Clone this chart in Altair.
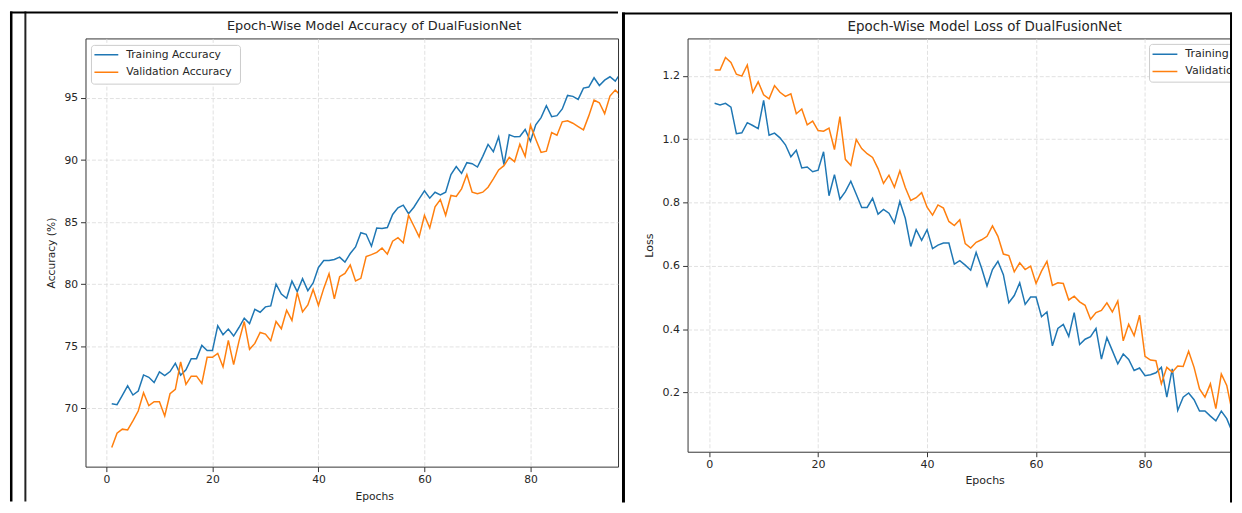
import altair as alt
import pandas as pd

# ---------------- data ----------------
epochs = list(range(1, 98))

train_acc = [70.37, 70.29, 71.04, 71.81, 71.07, 71.39, 72.69, 72.50, 72.08, 72.93,
             72.64, 72.96, 73.63, 72.67, 73.10, 74.00, 74.00, 75.07, 74.65, 74.65,
             76.65, 75.93, 76.38, 75.82, 76.51, 77.26, 76.83, 77.98, 77.74, 78.17,
             78.25, 80.00, 79.20, 78.86, 80.25, 79.40, 80.44, 79.48, 80.10, 81.35,
             81.90, 81.90, 81.99, 82.18, 81.78, 82.47, 83.00, 84.15, 84.02, 83.06,
             84.53, 84.48, 84.56, 85.62, 86.15, 86.37, 85.68, 86.20, 86.88, 87.52,
             86.93, 87.41, 87.20, 87.41, 88.83, 89.47, 88.93, 89.79, 89.71, 89.44,
             90.30, 91.26, 90.67, 91.87, 89.63, 92.03, 91.87, 91.90, 92.46, 91.52,
             92.84, 93.42, 94.38, 93.50, 93.58, 94.12, 95.21, 95.13, 94.89, 95.80,
             95.88, 96.63, 96.01, 96.44, 96.71, 96.36, 97.00]

val_acc = [66.84, 68.00, 68.32, 68.26, 68.98, 69.78, 71.25, 70.21, 70.53, 70.53,
           69.38, 71.17, 71.52, 73.73, 71.92, 72.59, 72.59, 72.00, 74.11, 74.11,
           74.43, 73.33, 75.47, 73.52, 75.39, 76.99, 74.75, 75.23, 76.11, 75.98,
           75.45, 76.99, 76.41, 77.90, 77.08, 79.32, 77.77, 78.33, 79.58, 78.28,
           79.66, 80.85, 78.81, 80.60, 80.87, 81.54, 80.26, 80.47, 82.22, 82.38,
           82.56, 82.92, 82.42, 83.46, 83.75, 83.33, 85.55, 84.69, 83.81, 85.55,
           84.53, 86.23, 86.82, 85.55, 87.15, 87.07, 87.68, 88.83, 87.41, 87.28,
           87.41, 87.81, 88.48, 89.20, 89.55, 90.22, 89.87, 91.28, 90.30, 92.81,
           91.68, 90.62, 90.72, 92.22, 92.00, 93.08, 93.16, 92.97, 92.70, 92.44,
           93.56, 94.84, 94.62, 93.74, 95.16, 95.64, 95.20]

train_loss = [1.113, 1.108, 1.113, 1.101, 1.017, 1.020, 1.052, 1.043, 1.033, 1.122,
              1.012, 1.019, 1.004, 0.982, 0.944, 0.965, 0.909, 0.912, 0.897, 0.902,
              0.960, 0.821, 0.888, 0.810, 0.834, 0.867, 0.826, 0.784, 0.784, 0.813,
              0.763, 0.778, 0.766, 0.735, 0.803, 0.750, 0.661, 0.714, 0.680, 0.714,
              0.654, 0.665, 0.672, 0.672, 0.605, 0.616, 0.602, 0.586, 0.642, 0.593,
              0.536, 0.588, 0.614, 0.572, 0.483, 0.506, 0.546, 0.478, 0.501, 0.501,
              0.439, 0.454, 0.347, 0.402, 0.415, 0.377, 0.452, 0.351, 0.368, 0.376,
              0.402, 0.305, 0.373, 0.332, 0.290, 0.321, 0.304, 0.269, 0.277, 0.253,
              0.256, 0.262, 0.279, 0.185, 0.274, 0.143, 0.185, 0.198, 0.177, 0.141,
              0.141, 0.125, 0.110, 0.141, 0.117, 0.075, 0.060]

val_loss = [1.218, 1.218, 1.258, 1.242, 1.205, 1.199, 1.234, 1.148, 1.181, 1.140,
            1.127, 1.169, 1.148, 1.135, 1.143, 1.080, 1.095, 1.045, 1.057, 1.027,
            1.025, 1.035, 0.967, 1.071, 0.936, 0.917, 0.999, 0.970, 0.954, 0.942,
            0.907, 0.860, 0.886, 0.848, 0.900, 0.847, 0.806, 0.815, 0.831, 0.785,
            0.760, 0.792, 0.782, 0.740, 0.727, 0.745, 0.670, 0.656, 0.674, 0.682,
            0.693, 0.726, 0.693, 0.637, 0.632, 0.581, 0.609, 0.588, 0.599, 0.544,
            0.583, 0.614, 0.538, 0.546, 0.544, 0.492, 0.504, 0.486, 0.475, 0.431,
            0.452, 0.459, 0.483, 0.454, 0.489, 0.363, 0.415, 0.379, 0.444, 0.314,
            0.302, 0.300, 0.227, 0.279, 0.264, 0.283, 0.282, 0.330, 0.279, 0.211,
            0.185, 0.227, 0.149, 0.258, 0.222, 0.138, 0.100]

acc_names = ["Training Accuracy", "Validation Accuracy"]
loss_names = ["Training Loss", "Validation Loss"]
series_colors = ["#1f77b4", "#ff7f0e"]
acc_ticks = [70, 75, 80, 85, 90, 95]
loss_ticks = [0.2, 0.4, 0.6, 0.8, 1.0, 1.2]
epoch_ticks = [0, 20, 40, 60, 80]
acc_title = "Epoch-Wise Model Accuracy of DualFusionNet"
loss_title = "Epoch-Wise Model Loss of DualFusionNet"

FONT = "DejaVu Sans"
TXT = "#262626"
one = pd.DataFrame({"k": [0]})


def long_df(a, b, names):
    return pd.DataFrame({
        "epoch": epochs + epochs,
        "value": a + b,
        "series": [names[0]] * len(a) + [names[1]] * len(b),
    })


def vrule(x, y1, y2, w, c):
    return alt.Chart(one).mark_rule(color=c, strokeWidth=w).encode(
        x=alt.value(x), y=alt.value(y1), y2=alt.value(y2))


def hrule(x1, x2, y, w, c):
    return alt.Chart(one).mark_rule(color=c, strokeWidth=w).encode(
        x=alt.value(x1), x2=alt.value(x2), y=alt.value(y))


def panel(df, names, W, H, xdom, ydom, yticks, yfmt, ytitle, ytitle_x,
          title, title_x, title_y, xtitle_y, fs, tfs, leg, decos):
    lines = alt.Chart(df).mark_line(strokeWidth=1.5, clip=True).encode(
        x=alt.X("epoch:Q",
                scale=alt.Scale(domain=xdom, nice=False, zero=False),
                axis=alt.Axis(values=epoch_ticks, title="Epochs", titleX=title_x,
                              titleY=xtitle_y, titleBaseline="middle", titleAlign="center",
                              labelFontSize=fs, titleFontSize=fs, labelFlush=False,
                              tickSize=5, labelPadding=2)),
        y=alt.Y("value:Q",
                scale=alt.Scale(domain=ydom, nice=False, zero=False),
                axis=alt.Axis(values=yticks, format=yfmt, title=ytitle, titleX=ytitle_x,
                              titleY=H / 2, titleAngle=270, titleBaseline="middle",
                              titleAlign="center", labelFontSize=fs, titleFontSize=fs,
                              labelFlush=False, tickSize=5, labelPadding=3)),
        color=alt.Color("series:N", scale=alt.Scale(domain=names, range=series_colors),
                        legend=None),
        detail="series:N",
    )
    ttl = alt.Chart(one).mark_text(text=title, font=FONT, fontSize=tfs, color=TXT,
                                   align="center", baseline="middle").encode(
        x=alt.value(title_x), y=alt.value(title_y))
    # legend (drawn, clipped to the plot area like the cropped reference)
    bx1, bx2, by1, by2, lx1, lx2, ly0, ldy, tx = leg
    layers = [lines, ttl]
    layers.append(alt.Chart(one).mark_rect(fill="white", stroke="#cccccc", strokeWidth=1,
                                           cornerRadius=3, clip=True).encode(
        x=alt.value(bx1), x2=alt.value(bx2), y=alt.value(by1), y2=alt.value(by2)))
    for i, (nm, col) in enumerate(zip(names, series_colors)):
        yy = ly0 + i * ldy
        layers.append(alt.Chart(one).mark_rule(color=col, strokeWidth=1.5, clip=True).encode(
            x=alt.value(lx1), x2=alt.value(lx2), y=alt.value(yy)))
        layers.append(alt.Chart(one).mark_text(text=nm, font=FONT, fontSize=fs, color=TXT,
                                               align="left", baseline="middle",
                                               clip=True).encode(
            x=alt.value(tx), y=alt.value(yy)))
    layers += decos
    return alt.layer(*layers).properties(width=W, height=H)


left = panel(long_df(train_acc, val_acc, acc_names), acc_names,
             W=536, H=431, xdom=[-3.95, 96.52], ydom=[65.3, 99.8],
             yticks=acc_ticks, yfmt="d", ytitle="Accuracy (%)", ytitle_x=-34,
             title=acc_title, title_x=290.5, title_y=-12, xtitle_y=30,
             fs=10.8, tfs=13,
             leg=(6, 156, 7, 46, 9, 33, 16.5, 17.6, 41),
             decos=[vrule(-74.75, -27, 466, 2.5, "#000000"),
                    vrule(-60.5, -27, 466, 2, "#222222"),
                    hrule(-76, 536, -26, 2, "#000000")])

right = panel(long_df(train_loss, val_loss, loss_names), loss_names,
              W=546, H=416, xdom=[-3.96, 95.6], ydom=[0.0126, 1.318],
              yticks=loss_ticks, yfmt=".1f", ytitle="Loss", ytitle_x=-38,
              title=loss_title, title_x=299, title_y=-11, xtitle_y=29,
              fs=11.1, tfs=13.5,
              leg=(465, 620, 6, 44, 468, 493, 16, 17.3, 501),
              decos=[vrule(-64.5, -26, 467, 3, "#000000"),
                     vrule(547, -26, 467, 2, "#000000"),
                     hrule(-66, 548, -25, 2, "#000000")])

chart = alt.hconcat(left, right, spacing=0).properties(padding=0).configure_view(
    stroke="#333333", strokeWidth=1
).configure_axis(
    grid=True, gridColor="#d9d9d9", gridDash=[4, 2], gridWidth=0.8,
    domain=False, tickColor="#333333", tickWidth=1,
    labelFont=FONT, labelColor=TXT, titleFont=FONT, titleColor=TXT,
    titleFontWeight="normal",
)

chart.save("out.html", embed_options={"renderer": "svg", "actions": False})
